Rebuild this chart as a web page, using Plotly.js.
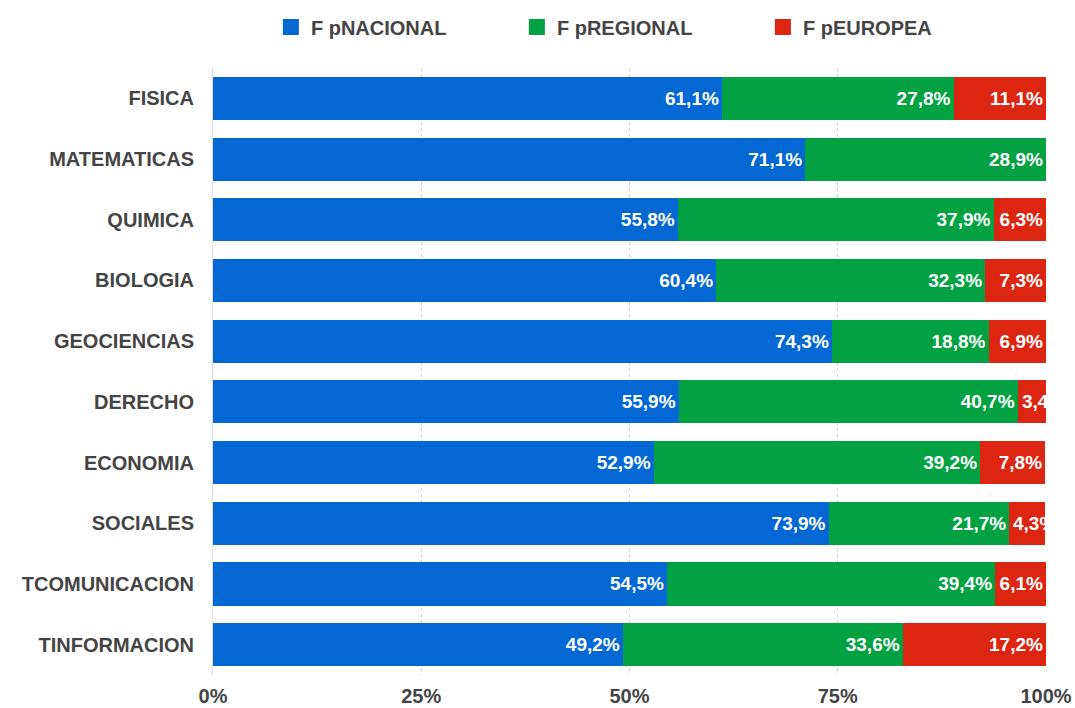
<!DOCTYPE html>
<html>
<head>
<meta charset="utf-8">
<script src="https://cdn.plot.ly/plotly-3.0.1.min.js"></script>
<style>html,body{margin:0;padding:0;background:#fff;}#chart{width:1075px;height:708px;}</style>
</head>
<body>
<div id="chart"></div>
<script>
const categories = ["FISICA","MATEMATICAS","QUIMICA","BIOLOGIA","GEOCIENCIAS","DERECHO","ECONOMIA","SOCIALES","TCOMUNICACION","TINFORMACION"];
const seriesNames = ["F pNACIONAL","F pREGIONAL","F pEUROPEA"];
const nacional = [61.1,71.1,55.8,60.4,74.3,55.9,52.9,73.9,54.5,49.2];
const regional = [27.8,28.9,37.9,32.3,18.8,40.7,39.2,21.7,39.4,33.6];
const europea  = [11.1,0,6.3,7.3,6.9,3.4,7.8,4.3,6.1,17.2];
const tickVals = [0,25,50,75,100];
const tickText = ["0%","25%","50%","75%","100%"];

const colors = ["#0368D4","#02A243","#DC2611"];
const fmt = v => v > 0 ? v.toFixed(1).replace('.', ',') + '%' : '';
const FONT = '"Liberation Sans", Arial, Helvetica, sans-serif';
const SMALL = 5; // labels of narrower segments start at the segment's left edge
const barFont = {family: FONT, size: 19, color: '#ffffff', weight: 'bold'};

const allSeries = [nacional, regional, europea];
const bars = allSeries.map((vals, i) => ({
  type: 'bar',
  orientation: 'h',
  name: seriesNames[i],
  y: categories,
  x: vals,
  text: vals.map(v => (v >= SMALL ? fmt(v) : '')),
  textposition: 'inside',
  insidetextanchor: 'end',
  textangle: 0,
  constraintext: 'none',
  cliponaxis: true,
  textfont: barFont,
  marker: {color: colors[i], line: {width: 0}},
  showlegend: false,
  hoverinfo: 'none'
}));

const annotations = [];
allSeries.forEach((vals, i) => {
  vals.forEach((v, k) => {
    if (v > 0 && v < SMALL) {
      let base = 0;
      for (let j = 0; j < i; j++) base += allSeries[j][k];
      annotations.push({
        x: base, y: categories[k], xref: 'x', yref: 'y',
        text: fmt(v), showarrow: false,
        xanchor: 'left', xshift: 2,
        font: barFont
      });
    }
  });
});

const legendTraces = seriesNames.map((n, i) => ({
  type: 'scatter',
  mode: 'markers',
  name: n,
  x: [null],
  y: [null],
  marker: {symbol: 'square', size: 16, color: colors[i]},
  showlegend: true,
  hoverinfo: 'none'
}));

const layout = {
  width: 1075, height: 708,
  barmode: 'stack',
  bargap: 0.29,
  margin: {l: 213, r: 29, t: 68, b: 33, pad: 0, autoexpand: false},
  paper_bgcolor: '#ffffff',
  plot_bgcolor: '#ffffff',
  font: {family: FONT, color: '#444444'},
  showlegend: true,
  annotations: annotations,
  legend: {
    orientation: 'h',
    xref: 'container', yref: 'container',
    x: 0.252, xanchor: 'left',
    y: 0.962, yanchor: 'middle',
    font: {family: FONT, size: 20, color: '#444444', weight: 'bold'},
    entrywidth: 201,
    entrywidthmode: 'pixels',
    itemwidth: 30,
    traceorder: 'normal'
  },
  xaxis: {
    range: [0, 100],
    tickvals: tickVals,
    ticktext: tickText,
    tickfont: {family: FONT, size: 20, color: '#444444', weight: 'bold'},
    showgrid: true,
    gridcolor: '#d0d0d0',
    griddash: 'dot',
    gridwidth: 1,
    zeroline: false,
    showline: false,
    ticks: 'outside',
    ticklen: 3,
    tickcolor: 'rgba(0,0,0,0)',
    fixedrange: true
  },
  yaxis: {
    autorange: 'reversed',
    tickfont: {family: FONT, size: 20, color: '#444444', weight: 'bold'},
    ticks: 'outside',
    ticklen: 14,
    tickcolor: 'rgba(0,0,0,0)',
    showgrid: false,
    zeroline: false,
    showline: true,
    linecolor: '#dddddd',
    linewidth: 1,
    fixedrange: true
  }
};

Plotly.newPlot('chart', bars.concat(legendTraces), layout, {displayModeBar: false, staticPlot: true});
</script>
</body>
</html>
